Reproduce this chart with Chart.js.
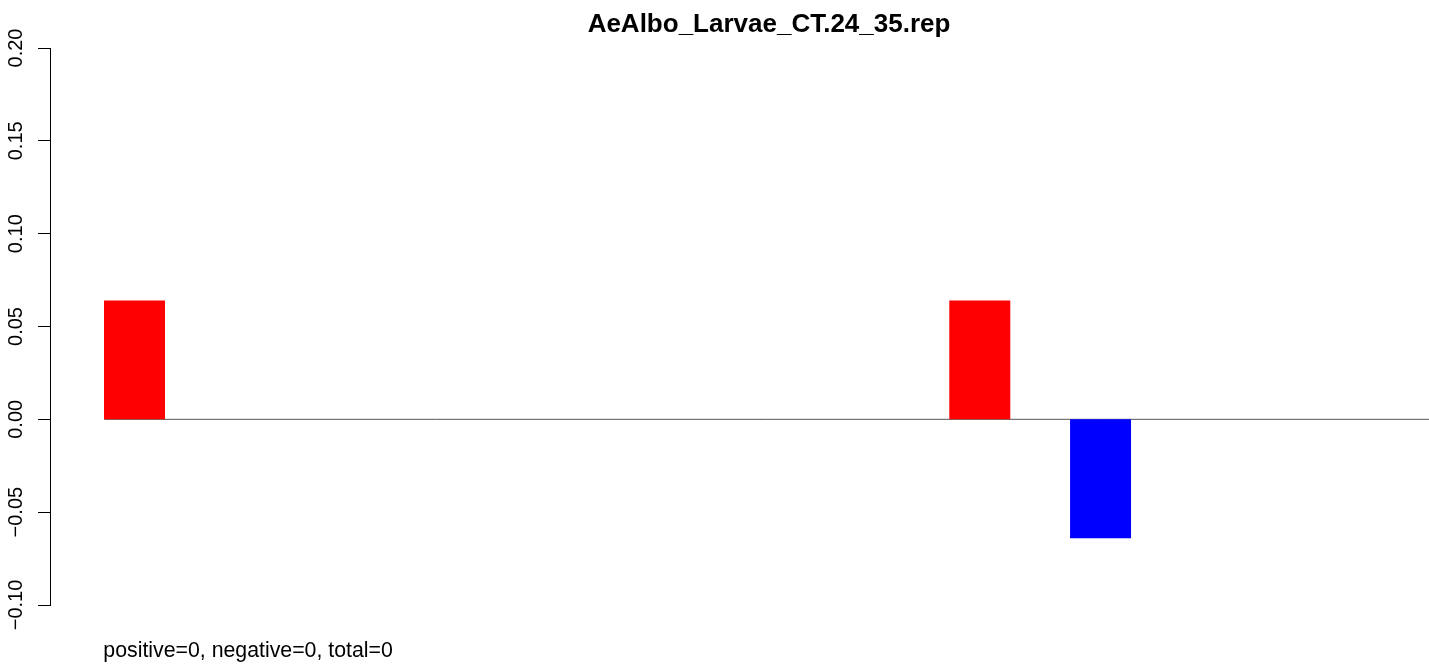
<!DOCTYPE html>
<html>
<head>
<meta charset="utf-8">
<script src="https://cdn.jsdelivr.net/npm/chart.js@4/dist/chart.umd.min.js"></script>
<style>
  html, body { margin: 0; padding: 0; background: #fff; }
</style>
</head>
<body>
<canvas id="chart" width="1429" height="664"></canvas>
<script>
// data (bars at positions 1..12, most are zero)
const positions = [1, 2, 3, 4, 5, 6, 7, 8, 9, 10, 11, 12];
const values = [0.064, 0, 0, 0, 0, 0, 0, 0.064, -0.064, 0, 0, 0];
const yTicks = [-0.10, -0.05, 0.00, 0.05, 0.10, 0.15, 0.20];
const yTickLabels = ["\u22120.10", "\u22120.05", "0.00", "0.05", "0.10", "0.15", "0.20"];
const titleText = "AeAlbo_Larvae_CT.24_35.rep";
const footText = "positive=0, negative=0, total=0";

const FONT = "'Liberation Sans', Arial, Helvetica, sans-serif";

const barData = positions.map((p, i) => ({ x: p, y: values[i] }));
const barColors = values.map(v => v < 0 ? "#0000ff" : "#ff0000");

// R-style text: rotated y labels, title, footer
const rText = {
  id: "rText",
  afterDraw(chart) {
    const ctx = chart.ctx;
    const ys = chart.scales.y;
    const xs = chart.scales.x;
    ctx.save();
    ctx.fillStyle = "#000";

    ctx.font = "20px " + FONT;
    ctx.textAlign = "center";
    ctx.textBaseline = "alphabetic";
    yTicks.forEach((v, i) => {
      const py = ys.getPixelForValue(v);
      ctx.save();
      ctx.translate(22, py);
      ctx.rotate(-Math.PI / 2);
      ctx.fillText(yTickLabels[i], 0, 0);
      ctx.restore();
    });

    ctx.font = "bold 26px " + FONT;
    ctx.textAlign = "center";
    ctx.fillText(titleText, 769, 32);

    ctx.font = "21.3px " + FONT;
    ctx.textAlign = "left";
    ctx.fillText(footText, xs.getPixelForValue(0.75) - 1, 657);
    ctx.restore();
  }
};

const ctx = document.getElementById("chart").getContext("2d");
const chart = new Chart(ctx, {
  type: "bar",
  data: {
    datasets: [{
      type: "line",
      data: [{ x: 0.75, y: 0 }, { x: 13, y: 0 }],
      borderColor: "#555555",
      borderWidth: 1,
      pointRadius: 0,
      order: 2
    }, {
      data: barData,
      backgroundColor: barColors,
      borderWidth: 0,
      barPercentage: 0.505,
      categoryPercentage: 1,
      order: 1
    }]
  },
  options: {
    responsive: false,
    animation: false,
    devicePixelRatio: 1,
    layout: { padding: { top: 48, bottom: 59, left: 38, right: 0 } },
    plugins: {
      legend: { display: false },
      tooltip: { enabled: false }
    },
    scales: {
      x: {
        type: "linear",
        offset: false,
        min: 0.3002,
        max: 11.72,
        display: false
      },
      y: {
        min: -0.1,
        max: 0.2,
        afterFit: (scale) => { scale.width = 12; },
        ticks: { display: false, stepSize: 0.05 },
        grid: {
          drawOnChartArea: false,
          drawTicks: true,
          tickLength: 12,
          color: "#000",
          lineWidth: 1
        },
        border: { display: true, color: "#000", width: 1 }
      }
    }
  },
  plugins: [rText]
});
</script>
</body>
</html>
